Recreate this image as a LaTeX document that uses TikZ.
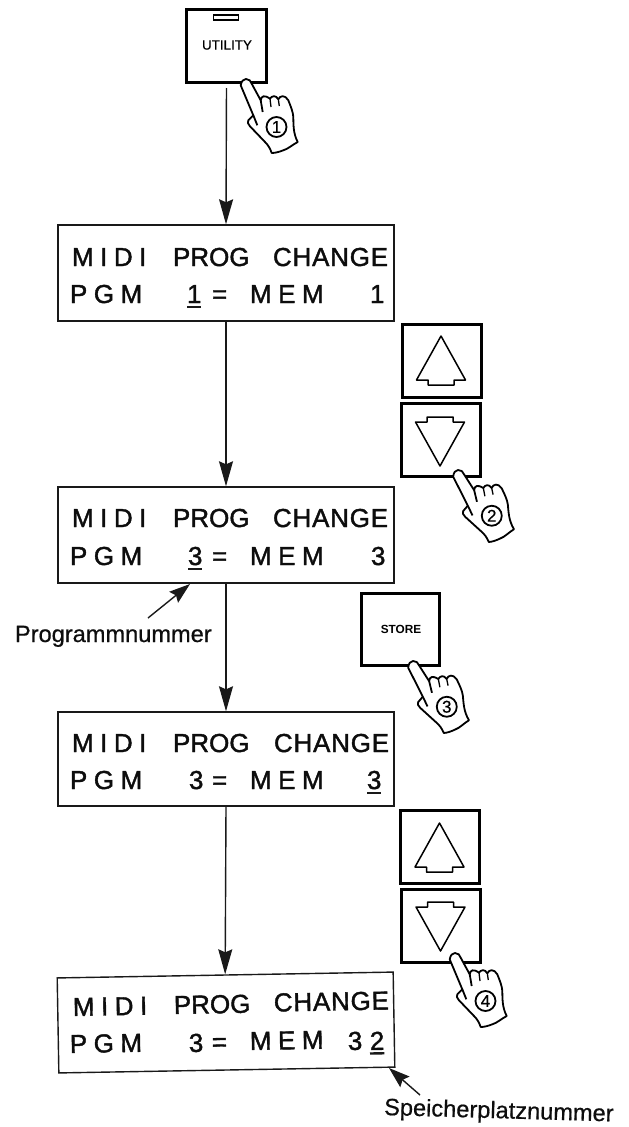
\documentclass[tikz,border=0pt]{standalone}
\usepackage{fontspec}
\setmainfont{Liberation Sans}
\newfontfamily\lcdplain[FakeBold=1.5]{Liberation Sans}
\newfontfamily\lcdwide[LetterSpace=25,FakeBold=1.5]{Liberation Sans}
\newfontfamily\lcdmid[LetterSpace=3,FakeBold=1.5]{Liberation Sans}
\newfontfamily\capfont[FakeBold=0.6]{Liberation Sans}
\usetikzlibrary{arrows.meta,calc}
\tikzset{
  x=1pt,y=-1pt,
  lcdbox/.style={draw=black!90,line width=1.4pt,minimum width=336pt,minimum height=96pt,inner sep=0pt},
  lcdtext/.style={anchor=base west,inner sep=0pt,outer sep=0pt,text=black!95,font=\fontsize{26}{26}\selectfont\lcdplain},
  wide/.style={font=\fontsize{26}{26}\selectfont\lcdwide},
  midw/.style={font=\fontsize{26}{26}\selectfont\lcdmid},
  flow/.style={draw=black!90,line width=1.4pt,-{Stealth[length=25pt,width=14pt,inset=3pt]}},
  pointer/.style={draw=black!90,line width=1.4pt,-{Stealth[length=21pt,width=14pt,inset=3pt]}},
  keybox/.style={draw=black,line width=3pt,minimum width=78pt,minimum height=72pt,inner sep=0pt},
  smallkey/.style={draw=black,line width=3pt,minimum width=79pt,minimum height=73pt,inner sep=0pt},
  ulbar/.style={draw=black!90,line width=2.4pt},
  caption/.style={anchor=base west,inner sep=0pt,outer sep=0pt,text=black!95,font=\fontsize{23.6}{24}\selectfont\capfont},
  hand/.pic={
    \filldraw[draw=black,fill=white,line width=1.8pt,line join=round]
      (-5.3,6.3) .. controls (-4.5,2) and (-2.5,0) .. (0,0)
      .. controls (3,0) and (5,2) .. (5.7,4.7) -- (14.7,21.3)
      .. controls (15.5,17) and (18,15.5) .. (24,19.7)
      .. controls (26,16.5) and (30,16) .. (32.3,20.3)
      .. controls (34,16.5) and (39,15.5) .. (42.3,21.3)
      .. controls (45,28) and (47,33) .. (47.3,38)
      .. controls (47.5,45) and (47,54) .. (51.7,63)
      .. controls (46,66) and (42,70) .. (37.3,71.3)
      .. controls (33,73) and (29,74) .. (25.7,74)
      .. controls (24,69) and (22,66) .. (19,63)
      -- (4,47.3) .. controls (2,45) and (1,43) .. (2.3,41.3) -- (7.3,36.3) -- cycle;
    \draw[black,line width=1.8pt] (7.3,36.3) -- (11.3,46.3);
    \draw[black,line width=1.8pt] (14.7,21.3) -- (16.7,33);
    \draw[black,line width=1.3pt] (24,19.7) -- (25,28);
    \draw[black,line width=1.3pt] (32.3,20.3) -- (33.3,27);
    \node[circle,draw=black,fill=white,line width=1.8pt,minimum size=20pt,inner sep=0pt,font=\fontsize{17}{17}\selectfont\capfont] (num) at (30.5,48) {#1};
  }
}
\newcommand{\arrowup}[2]{%
  \draw[black,line width=1.5pt,line join=round] (#1,#2-25) -- (#1+24.5,#2+19) -- (#1+13,#2+19) -- (#1+13,#2+24) -- (#1-13,#2+24) -- (#1-13,#2+19) -- (#1-24.5,#2+19) -- cycle;}
\newcommand{\arrowdown}[2]{%
  \draw[black,line width=1.5pt,line join=round] (#1,#2+26) -- (#1+24.5,#2-18) -- (#1+13,#2-18) -- (#1+13,#2-23) -- (#1-13,#2-23) -- (#1-13,#2-18) -- (#1-24.5,#2-18) -- cycle;}
\newcommand{\lcdtop}[5]{%
  \node[lcdtext,wide] (#1midi) at (#3,#2) {MIDI};
  \node[lcdtext] (#1prog) at (#4,#2) {PROG};
  \node[lcdtext,midw] (#1change) at (#5,#2) {CHANGE};}
\newcommand{\lcdbot}[4]{%
  \node[lcdtext,wide] (#1pgm) at (70,#2) {PGM};
  \node[lcdtext] (#1pnum) at (#3,#2) {#4};
  \node[lcdtext] (#1eq) at (212,#2) {=};
  \node[lcdtext,wide] (#1mem) at (250,#2) {MEM};}
\begin{document}
\begin{tikzpicture}
\useasboundingbox (0,0) rectangle (629,1127);
% UTILITY key
\node[keybox,minimum width=80pt,minimum height=73pt] (util) at (226.5,46) {};
\node[inner sep=0pt,font=\fontsize{13.4}{14}\selectfont\capfont] (utiltext) at (227,45) {UTILITY};
\node[draw=black,line width=1.6pt,minimum width=25pt,minimum height=5pt,inner sep=0pt] (slot) at (226,17.5) {};
% displays
\node[lcdbox] (d1) at (226,273) {};
\node[lcdbox] (d2) at (226,535) {};
\node[lcdbox,minimum height=94pt] (d3) at (226,759) {};
\node[lcdbox,minimum height=95pt,rotate=1] (d4) at (226,1022.5) {};
% flow
\draw[flow,shorten <=4pt] (util.south) -- (d1.north);
\draw[flow] (d1.south) -- (d2.north);
\draw[flow] (d2.south) -- (d3.north);
\draw[flow] (d3.south) -- (d4.north);
% display 1
\lcdtop{a}{266}{72}{173}{273}
\lcdbot{a}{303}{187}{1}
\node[lcdtext] (a1) at (370,303) {1};
\draw[ulbar] ($(apnum.base west)+(0,4)$) -- ($(apnum.base east)+(0,4)$);
% display 2
\lcdtop{b}{527}{72}{173}{273}
\lcdbot{b}{565}{188}{3}
\node[lcdtext] (b1) at (371,565) {3};
\draw[ulbar] ($(bpnum.base west)+(0,4)$) -- ($(bpnum.base east)+(0,4)$);
% display 3
\lcdtop{c}{752}{72}{173}{274}
\lcdbot{c}{789}{189}{3}
\node[lcdtext] (c1) at (367,789) {3};
\draw[ulbar] ($(c1.base west)+(0,4)$) -- ($(c1.base east)+(0,4)$);
% display 4
\node[lcdtext,wide,rotate=1] (emidi) at (73,1016) {MIDI};
\node[lcdtext,rotate=1] (eprog) at (174,1014) {PROG};
\node[lcdtext,midw,rotate=1] (echange) at (274,1011.5) {CHANGE};
\node[lcdtext,wide,rotate=1] (epgm) at (70,1053) {PGM};
\node[lcdtext,rotate=1] (epnum) at (189,1052) {3};
\node[lcdtext,rotate=1] (eeq) at (212,1051) {=};
\node[lcdtext,wide,rotate=1] (emem) at (250,1050) {MEM};
\node[lcdtext,rotate=1] (e1) at (348,1050) {3};
\node[lcdtext,rotate=1] (e2) at (370,1050) {2};
\draw[ulbar] ($(e2.base west)+(0,3.5)$) -- ($(e2.base east)+(0,3.5)$);
% keys 2
\node[smallkey] (up1) at (441.5,361) {};
\node[smallkey] (dn1) at (440.5,440) {};
\arrowup{441}{361}
\arrowdown{440}{440}
% STORE
\node[keybox] (store) at (400,629.5) {};
\node[inner sep=0pt,font=\fontsize{11.8}{12}\selectfont\bfseries] (storetext) at (401,629) {STORE};
% keys 4
\node[smallkey] (up2) at (439.5,847) {};
\node[smallkey] (dn2) at (440.5,925.5) {};
\arrowup{439.5}{848}
\arrowdown{440.5}{925}
% hands
\pic at (246,79) {hand={1}};
\pic[rotate=4] at (458,470) {hand={2}};
\pic[rotate=4] at (413,661) {hand={3}};
\pic at (455,953) {hand={4}};
% captions
\node[caption] (prognum) at (15,642) {Programmnummer};
\coordinate (ptail) at (148,618);
\coordinate (ptip) at (190,584);
\draw[pointer] (ptail) -- (ptip);
\node[caption,rotate=-1.6] (speicher) at (384,1115) {Speicherplatznummer};
\coordinate (stail) at (420,1095);
\coordinate (stip) at (389,1068);
\draw[pointer] (stail) -- (stip);
\end{tikzpicture}
\end{document}
